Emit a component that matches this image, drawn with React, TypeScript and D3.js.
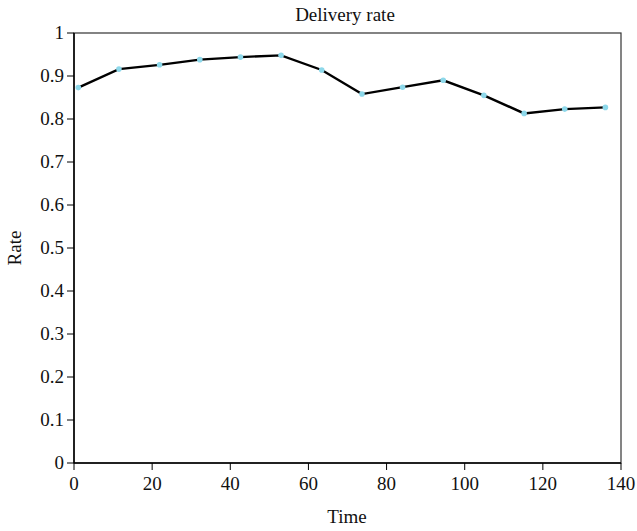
import React from "react";
import * as d3 from "d3";

const times = [1.1, 11.5, 21.9, 32.2, 42.6, 53.0, 63.4, 73.7, 84.1, 94.5, 104.9, 115.2, 125.6, 136.0];
const rates = [0.873, 0.916, 0.926, 0.938, 0.944, 0.948, 0.914, 0.858, 0.874, 0.89, 0.855, 0.813, 0.823, 0.827];
const xTicks = [0, 20, 40, 60, 80, 100, 120, 140];
const yTicks = [0, 0.1, 0.2, 0.3, 0.4, 0.5, 0.6, 0.7, 0.8, 0.9, 1];

const W = 637, H = 531;
const L = 74, R = 621, T = 33, B = 463;
const FONT = "'Liberation Serif', 'Times New Roman', serif";

export default function App() {
  const x = d3.scaleLinear().domain([0, 140]).range([L, R]);
  const y = d3.scaleLinear().domain([0, 1]).range([B, T]);
  const line = d3.line<number>().x((_, i) => x(times[i])).y((d) => y(d));
  const fmt = (v: number) => (v === 0 || v === 1 ? String(v) : v.toFixed(1));
  return (
    <svg width={W} height={H} style={{ position: "absolute", left: 0, top: 0, background: "#fff" }}>
      <rect x={L} y={T} width={R - L} height={B - T} fill="none" stroke="#333" strokeWidth={1.2} />
      <line x1={L} x2={L} y1={T} y2={B} stroke="#000" strokeWidth={1.5} />
      <line x1={L} x2={R} y1={B} y2={B} stroke="#000" strokeWidth={1.5} />
      {yTicks.map((t) => (
        <g key={"y" + t}>
          <line x1={L - 7} x2={L} y1={y(t)} y2={y(t)} stroke="#000" strokeWidth={1} />
          <text x={L - 10} y={y(t)} dy="0.34em" textAnchor="end" fontFamily={FONT} fontSize={19} fill="#111">
            {fmt(t)}
          </text>
        </g>
      ))}
      {xTicks.map((t) => (
        <g key={"x" + t}>
          <line x1={x(t)} x2={x(t)} y1={B} y2={B + 7} stroke="#000" strokeWidth={1} />
          <text x={x(t)} y={B + 27} textAnchor="middle" fontFamily={FONT} fontSize={19} fill="#111">
            {t}
          </text>
        </g>
      ))}
      <path d={line(rates) || ""} fill="none" stroke="#000" strokeWidth={2.4} />
      {rates.map((r, i) => (
        <circle key={i} cx={x(times[i])} cy={y(r)} r={2.8} fill="#8dd8ea" />
      ))}
      <text x={345} y={20.5} textAnchor="middle" fontFamily={FONT} fontSize={19} fill="#111">
        Delivery rate
      </text>
      <text x={347} y={523} textAnchor="middle" fontFamily={FONT} fontSize={19} fill="#111">
        Time
      </text>
      <text
        transform={`translate(21, ${(T + B) / 2}) rotate(-90)`}
        textAnchor="middle"
        fontFamily={FONT}
        fontSize={19}
        fill="#111"
      >
        Rate
      </text>
    </svg>
  );
}
